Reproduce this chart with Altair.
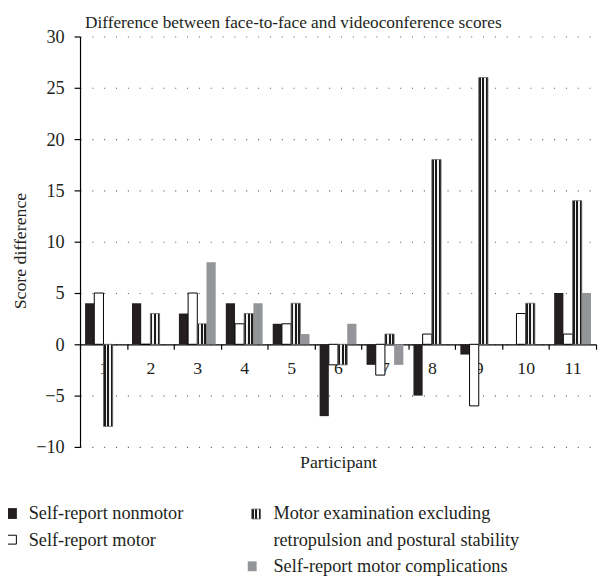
import altair as alt
import pandas as pd

# ---- data ----
participants = [str(i) for i in range(1, 12)]
series_keys = ["nonmotor", "motor", "exam", "complications"]
nonmotor = [4, 4, 3, 4, 2, -7, -2, -5, -1, 0, 5]
motor = [5, 0, 5, 2, 2, -2, -3, 1, -6, 3, 1]
exam = [-8, 3, 2, 3, 4, -2, 1, 18, 26, 4, 14]
complications = [0, 0, 8, 4, 1, 2, -2, 0, 0, 0, 5]
y_ticks = [-10, -5, 0, 5, 10, 15, 20, 25, 30]

title_text = "Difference between face-to-face and videoconference scores"
legend_nonmotor = "Self-report nonmotor"
legend_motor = "Self-report motor"
legend_exam = ["Motor examination excluding", "retropulsion and postural stability"]
legend_comp = "Self-report motor complications"

FONT = "Liberation Serif"
INK = "#231f20"

rows = []
for key, vals in zip(series_keys, [nonmotor, motor, exam, complications]):
    for p, v in zip(participants, vals):
        rows.append({"participant": p, "series": key, "value": v})
df = pd.DataFrame(rows)

checker = alt.Gradient(
    gradient="linear", x1=0, x2=1, y1=0, y2=0,
    stops=[
        alt.GradientStop(color="#1a1a1a", offset=0.0),
        alt.GradientStop(color="#1a1a1a", offset=0.22),
        alt.GradientStop(color="#f2f2f2", offset=0.22),
        alt.GradientStop(color="#f2f2f2", offset=0.39),
        alt.GradientStop(color="#1a1a1a", offset=0.39),
        alt.GradientStop(color="#1a1a1a", offset=0.61),
        alt.GradientStop(color="#f2f2f2", offset=0.61),
        alt.GradientStop(color="#f2f2f2", offset=0.78),
        alt.GradientStop(color="#1a1a1a", offset=0.78),
        alt.GradientStop(color="#1a1a1a", offset=1.0),
    ],
)

x_enc = alt.X(
    "participant:N", sort=participants,
    scale=alt.Scale(domain=participants, paddingInner=0, paddingOuter=0),
    axis=alt.Axis(
        title="Participant", labelAngle=0, tickBand="extent", offset=-104,
        domainColor="black", domainWidth=1.2, tickColor="black", tickWidth=1.2,
        tickSize=5, labelPadding=20, labelBaseline="middle",
        labelFont=FONT, labelFontSize=18, labelColor=INK,
        titleFont=FONT, titleFontSize=18, titleFontWeight="normal", titleColor=INK,
        titleY=120, titleBaseline="middle", grid=False,
    ),
)
xo_enc = alt.XOffset(
    "series:N", sort=series_keys,
    scale=alt.Scale(domain=series_keys, paddingInner=0, paddingOuter=0.55),
)
y_enc = alt.Y(
    "value:Q",
    scale=alt.Scale(domain=[-10, 30], nice=False, zero=True),
    axis=alt.Axis(
        title="Score difference", values=y_ticks, grid=True,
        gridDash=[1, 11], gridColor="#555555", gridWidth=1.1,
        domainColor="black", domainWidth=1.2, tickColor="black", tickWidth=1.2,
        tickSize=6, labelPadding=10,
        labelFont=FONT, labelFontSize=18.5, labelColor=INK,
        titleFont=FONT, titleFontSize=18, titleFontWeight="normal", titleColor=INK,
        titleX=-60, titleY=217, titleBaseline="middle",
    ),
)

base = alt.Chart(df).encode(x=x_enc, xOffset=xo_enc, y=y_enc)

bars_nonmotor = base.transform_filter(alt.datum.series == "nonmotor").mark_bar(fill=INK)
bars_motor = base.transform_filter(alt.datum.series == "motor").mark_bar(
    fill="white", stroke="black", strokeWidth=1)
bars_exam = base.transform_filter(alt.datum.series == "exam").mark_bar(
    fill=checker, stroke="#666666", strokeWidth=0.8)
bars_comp = base.transform_filter(alt.datum.series == "complications").mark_bar(fill="#939598")

one = pd.DataFrame({"k": [0]})


def text_layer(txt, x, y, size=18.5):
    return alt.Chart(one).mark_text(
        font=FONT, fontSize=size, color=INK, align="left", baseline="middle"
    ).encode(x=alt.value(x), y=alt.value(y), text=alt.value(txt))


def box_layer(x, x2, y, y2, **kw):
    return alt.Chart(one).mark_rect(**kw).encode(
        x=alt.value(x), x2=alt.value(x2), y=alt.value(y), y2=alt.value(y2))


title = alt.Chart(one).mark_text(
    font=FONT, fontSize=17.5, color=INK, align="left", baseline="alphabetic"
).encode(x=alt.value(5), y=alt.value(-9), text=alt.value(title_text))

legend = [
    box_layer(-74, -64, 478, 489, fill=INK),
    text_layer(legend_nonmotor, -52, 483),
    box_layer(-73.5, -64.5, 505.5, 514.5, fill="white", stroke="black", strokeWidth=1),
    text_layer(legend_motor, -52, 510),
    box_layer(174, 183, 479, 489, fill=checker, stroke="#666666", strokeWidth=0.8),
    text_layer(legend_exam[0], 196, 483),
    text_layer(legend_exam[1], 196, 510),
    box_layer(170, 179, 532, 542, fill="#939598"),
    text_layer(legend_comp, 196, 537),
]

chart = alt.layer(
    bars_nonmotor, bars_motor, bars_exam, bars_comp, title, *legend
).properties(
    width=523, height=416,
    autosize=alt.AutoSizeParams(type="none"),
    padding={"left": 73, "top": 25, "right": 2, "bottom": 130},
).configure_view(stroke=None)

chart.save("out.html", embed_options={"renderer": "svg", "actions": False})
